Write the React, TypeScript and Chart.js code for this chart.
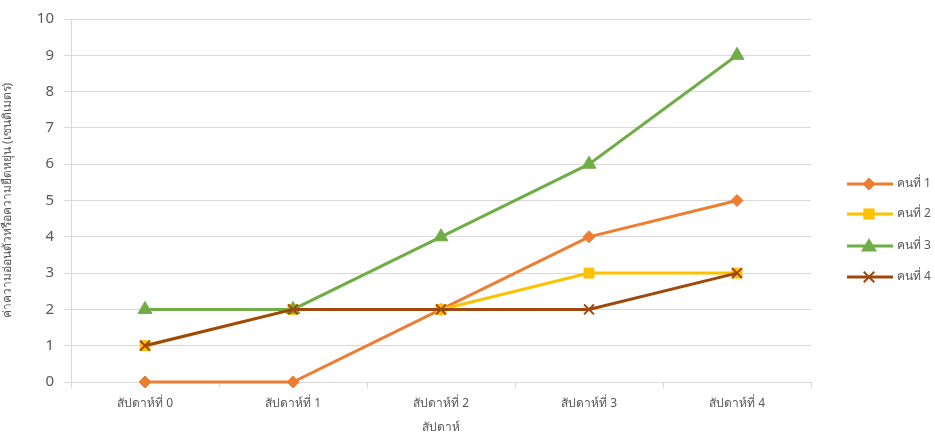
import React, { useEffect, useRef } from "react";
import { Chart, registerables } from "chart.js";

Chart.register(...registerables);

const categories = ["สัปดาห์ที่ 0", "สัปดาห์ที่ 1", "สัปดาห์ที่ 2", "สัปดาห์ที่ 3", "สัปดาห์ที่ 4"];
const seriesNames = ["คนที่ 1", "คนที่ 2", "คนที่ 3", "คนที่ 4"];
const person1 = [0, 0, 2, 4, 5];
const person2 = [1, 2, 2, 3, 3];
const person3 = [2, 2, 4, 6, 9];
const person4 = [1, 2, 2, 2, 3];
const yTitle = "ค่าความอ่อนตัวหรือความยืดหยุ่น (เซนติเมตร)";
const xTitle = "สัปดาห์";

const FONT = "'Noto Sans', 'Noto Sans CJK SC', 'DejaVu Sans', sans-serif";
const TXT = "#595959";
const GRID = "#d9d9d9";

const legendPlugin = {
  id: "sideLegend",
  afterDraw(chart: any) {
    const ctx = chart.ctx;
    const ys = [184, 214, 246, 277];
    ctx.save();
    chart.data.datasets.forEach((ds: any, i: number) => {
      const y = ys[i];
      ctx.strokeStyle = ds.borderColor;
      ctx.lineWidth = 3;
      ctx.beginPath();
      ctx.moveTo(847, y);
      ctx.lineTo(893, y);
      ctx.stroke();
      const r = ds.pointRadius;
      ctx.fillStyle = ds.pointBackgroundColor;
      ctx.strokeStyle = ds.pointBorderColor;
      ctx.lineWidth = 1;
      const cx = 869;
      if (ds.pointStyle === "rectRot") {
        ctx.beginPath();
        ctx.moveTo(cx, y - r); ctx.lineTo(cx + r, y); ctx.lineTo(cx, y + r); ctx.lineTo(cx - r, y); ctx.closePath();
        ctx.fill(); ctx.stroke();
      } else if (ds.pointStyle === "rect") {
        ctx.fillRect(cx - r * 0.8, y - r * 0.8, r * 1.6, r * 1.6);
      } else if (ds.pointStyle === "triangle") {
        ctx.beginPath();
        ctx.moveTo(cx, y - r); ctx.lineTo(cx + r, y + r * 0.7); ctx.lineTo(cx - r, y + r * 0.7); ctx.closePath();
        ctx.fill();
      } else {
        ctx.lineWidth = 2;
        ctx.beginPath();
        ctx.moveTo(cx - r * 0.75, y - r * 0.75); ctx.lineTo(cx + r * 0.75, y + r * 0.75);
        ctx.moveTo(cx + r * 0.75, y - r * 0.75); ctx.lineTo(cx - r * 0.75, y + r * 0.75);
        ctx.stroke();
      }
      ctx.fillStyle = TXT;
      ctx.font = `12px ${FONT}`;
      ctx.textBaseline = "middle";
      ctx.textAlign = "left";
      ctx.fillText(ds.label, 897, y);
    });
    ctx.restore();
  },
};

export default function App() {
  const ref = useRef<HTMLCanvasElement>(null);
  useEffect(() => {
    const mk = (label: string, data: number[], color: string, style: string, radius: number, order: number) => ({
      label,
      data,
      order,
      clip: false,
      borderColor: color,
      backgroundColor: color,
      borderWidth: 3,
      pointStyle: style,
      pointRadius: radius,
      pointHoverRadius: radius,
      pointBackgroundColor: color,
      pointBorderColor: color,
      pointBorderWidth: style === "crossRot" ? 2 : 1,
      tension: 0,
    });
    const chart = new Chart(ref.current!, {
      type: "line",
      data: {
        labels: categories,
        datasets: [
          mk(seriesNames[0], person1, "#ED7D31", "rectRot", 6, 3),
          mk(seriesNames[1], person2, "#FFC000", "rect", 7, 2),
          mk(seriesNames[2], person3, "#70AD47", "triangle", 8, 1),
          mk(seriesNames[3], person4, "#9E480E", "crossRot", 7, 0),
        ],
      },
      options: {
        animation: false,
        responsive: false,
        layout: { padding: { top: 17, right: 124, left: 0, bottom: 0 } },
        plugins: { legend: { display: false }, tooltip: { enabled: false } },
        scales: {
          x: {
            offset: true,
            grid: { display: true, drawOnChartArea: false, color: GRID, tickLength: 6, offset: true },
            border: { display: false },
            ticks: { color: TXT, font: { family: FONT, size: 12 }, padding: 8, maxRotation: 0 },
            title: { display: true, text: xTitle, color: TXT, font: { family: FONT, size: 12 }, padding: { top: 4, bottom: 0 } },
            afterFit: (s: any) => { s.height = 53; },
          },
          y: {
            min: 0,
            max: 10,
            ticks: { stepSize: 1, color: TXT, font: { family: FONT, size: 15 }, padding: 10 },
            grid: { color: GRID, lineWidth: 1, tickLength: 7 },
            border: { color: GRID },
            title: { display: true, text: yTitle, color: TXT, font: { family: FONT, size: 12 }, padding: { top: 0, bottom: 4 } },
            afterFit: (s: any) => { s.width = 71; },
          },
        },
      },
      plugins: [legendPlugin],
    } as any);
    return () => chart.destroy();
  }, []);
  return (
    <div style={{ position: "fixed", left: 0, top: 0, width: 935, height: 435, background: "#fff" }}>
      <canvas ref={ref} width={935} height={435} style={{ width: 935, height: 435, display: "block" }} />
    </div>
  );
}
